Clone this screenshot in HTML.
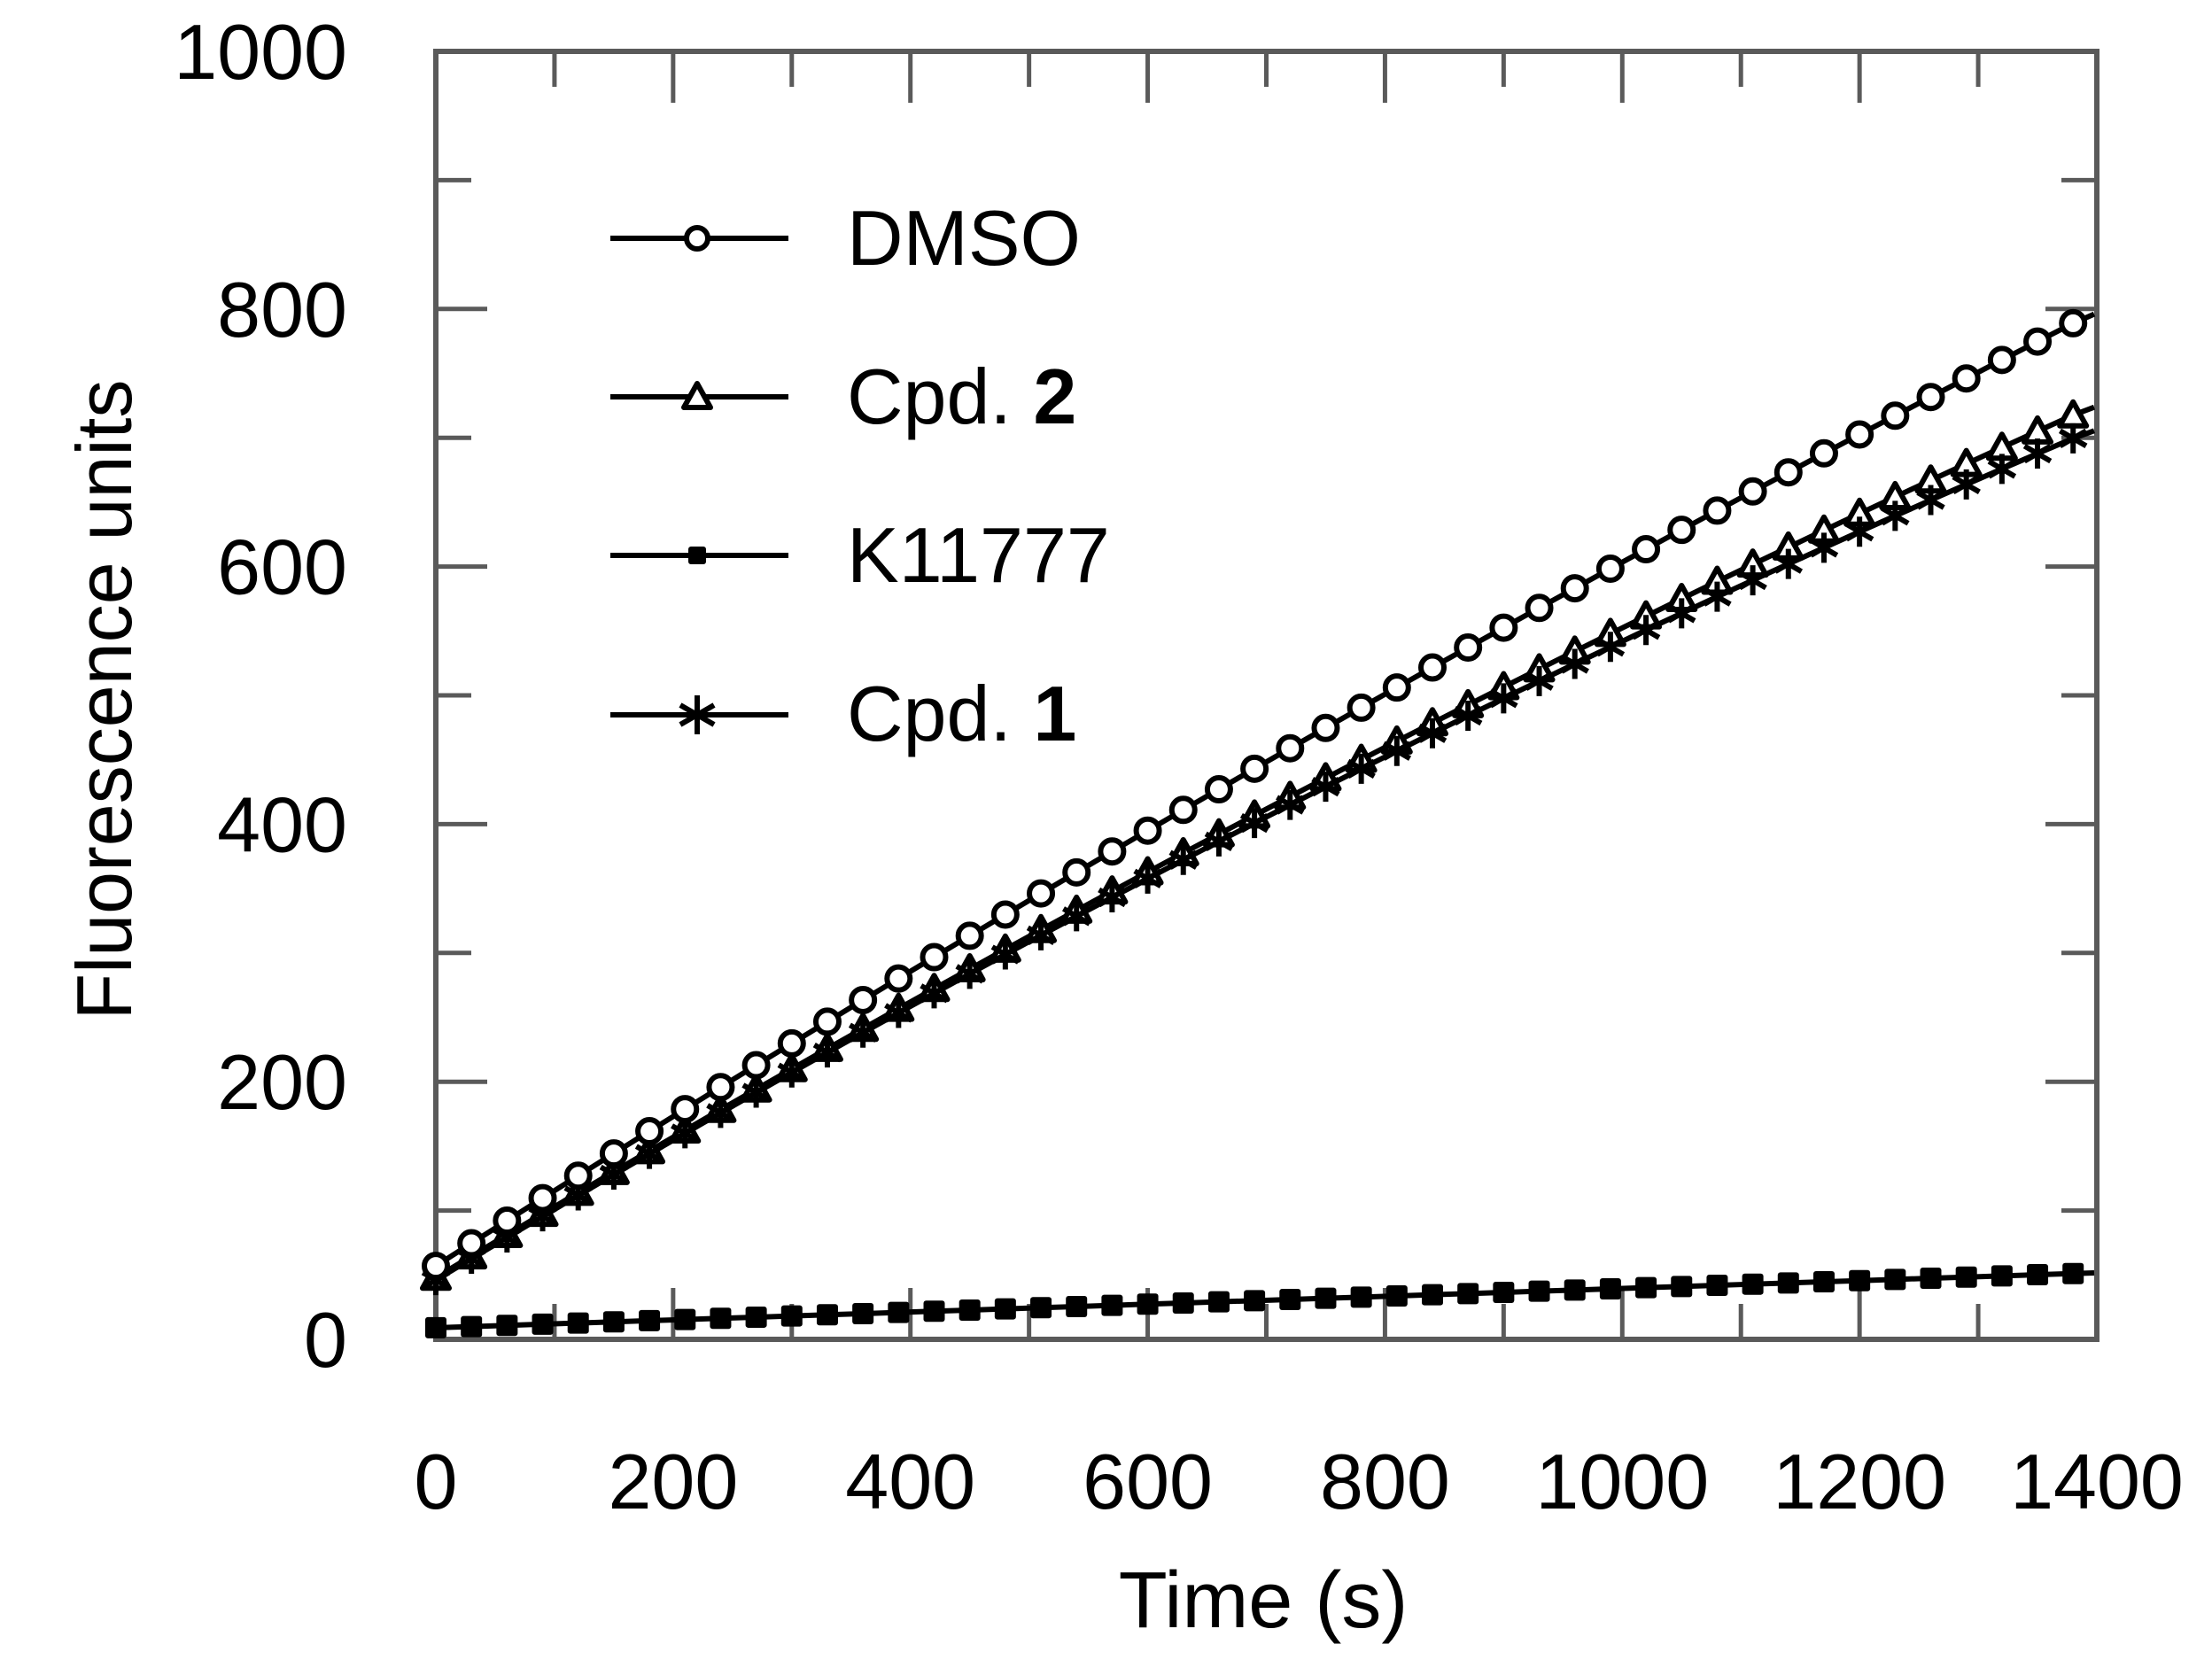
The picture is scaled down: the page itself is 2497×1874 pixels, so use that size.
<!DOCTYPE html>
<html><head><meta charset="utf-8"><style>
html,body{margin:0;padding:0;background:#fff;}
svg{display:block;}
text{font-family:"Liberation Sans",Arial,sans-serif;fill:#000;}
</style></head><body>
<svg id="s" xmlns="http://www.w3.org/2000/svg" width="2497" height="1874" viewBox="0 0 2497 1874">
<rect width="2497" height="1874" fill="#fff"/>
<g id="ticks" stroke="#5a5a5a" stroke-width="5" fill="none"></g>
<rect x="492" y="58" width="1875" height="1454" fill="none" stroke="#5a5a5a" stroke-width="6"/>
<g id="data"></g>
<g font-size="88" text-anchor="end" id="ylab"></g>
<g font-size="88" text-anchor="middle" id="xlab"></g>
<text x="1426" y="1837" font-size="90" text-anchor="middle">Time (s)</text>
<text transform="translate(148,790) rotate(-90)" font-size="88" text-anchor="middle" textLength="723" lengthAdjust="spacingAndGlyphs">Fluorescence units</text>
<g id="legend"></g>
<g font-size="88">
<text x="956" y="299">DMSO</text>
<text x="956" y="478">Cpd. <tspan font-weight="bold">2</tspan></text>
<text x="956" y="657">K11777</text>
<text x="956" y="836">Cpd. <tspan font-weight="bold">1</tspan></text>
</g>
</svg>
<script>
const NS="http://www.w3.org/2000/svg";
const X0=492,X1=2367,Y0=1512,Y1=58;
const sx=t=>X0+(X1-X0)*t/1400, sy=v=>Y0-(Y0-Y1)*v/1000;
function el(p,tag,a){const e=document.createElementNS(NS,tag);for(const k in a)e.setAttribute(k,a[k]);p.appendChild(e);return e;}
const tk=document.getElementById('ticks');
for(let t=100;t<1400;t+=100){const L=(t%200==0)?58:40;const x=sx(t);
 el(tk,'line',{x1:x,y1:Y0,x2:x,y2:Y0-L});el(tk,'line',{x1:x,y1:Y1,x2:x,y2:Y1+L});}
for(let v=100;v<1000;v+=100){const L=(v%200==0)?58:40;const y=sy(v);
 el(tk,'line',{x1:X0,y1:y,x2:X0+L,y2:y});el(tk,'line',{x1:X1,y1:y,x2:X1-L,y2:y});}
const yl=document.getElementById('ylab');
for(let v=0;v<=1000;v+=200){const t=el(yl,'text',{x:392,y:sy(v)+31});t.textContent=v;}
const xl=document.getElementById('xlab');
for(let t=0;t<=1400;t+=200){const e=el(xl,'text',{x:sx(t),y:1703});e.textContent=t;}
const d=document.getElementById('data');
const T=[];for(let t=0;t<=1380;t+=30)T.push(t);
const c2=t=>48+0.555*t-5.06e-5*t*t;
const f={
 dmso:t=>57+0.5886*t-4.22e-5*t*t,
 c2:c2,
 c1:t=>c2(t)-2-16*Math.pow(t/1380,2),
 k:t=>9+0.0305*t
};
function series(fn,mk){
 let pts=T.map(t=>[sx(t),sy(fn(t))]);
 let all=pts.slice();all.push([X1-3,sy(fn(1395))]);
 el(d,'polyline',{points:all.map(p=>p.join(',')).join(' '),fill:'none',stroke:'#000','stroke-width':6});
 pts.forEach(p=>mk(d,p[0],p[1]));
}
function circ(g,x,y,r=13){el(g,'circle',{cx:x,cy:y,r:r,fill:'#fff',stroke:'#000','stroke-width':6});}
function tri(g,x,y,s=15){el(g,'polygon',{points:`${x},${y-s} ${x+s},${y+s*0.8} ${x-s},${y+s*0.8}`,fill:'#fff',stroke:'#000','stroke-width':6,'stroke-linejoin':'round'});}
function sq(g,x,y,s=12){el(g,'rect',{x:x-s,y:y-s,width:2*s,height:2*s,rx:3,fill:'#000'});}
function star(g,x,y,s=17){let p='';for(let i=0;i<3;i++){const a=Math.PI/2+i*Math.PI/3;const dx=s*Math.cos(a),dy=s*Math.sin(a);p+=`M${x-dx},${y-dy}L${x+dx},${y+dy}`;}
 el(g,'path',{d:p,stroke:'#000','stroke-width':6,fill:'none'});}
series(f.k,sq);
series(f.c2,tri);
series(f.c1,star);
series(f.dmso,circ);
const lg=document.getElementById('legend');
const rows=[[269,circ],[448,tri],[627,sq],[807,star]];
rows.forEach(([y,m])=>{el(lg,'line',{x1:689,y1:y,x2:890,y2:y,stroke:'#000','stroke-width':6});
 if(m===sq)sq(lg,787,y,10);else if(m===circ)circ(lg,787,y,12);else if(m===tri)tri(lg,787,y,15);else star(lg,787,y,22);});
</script>
</body></html>
